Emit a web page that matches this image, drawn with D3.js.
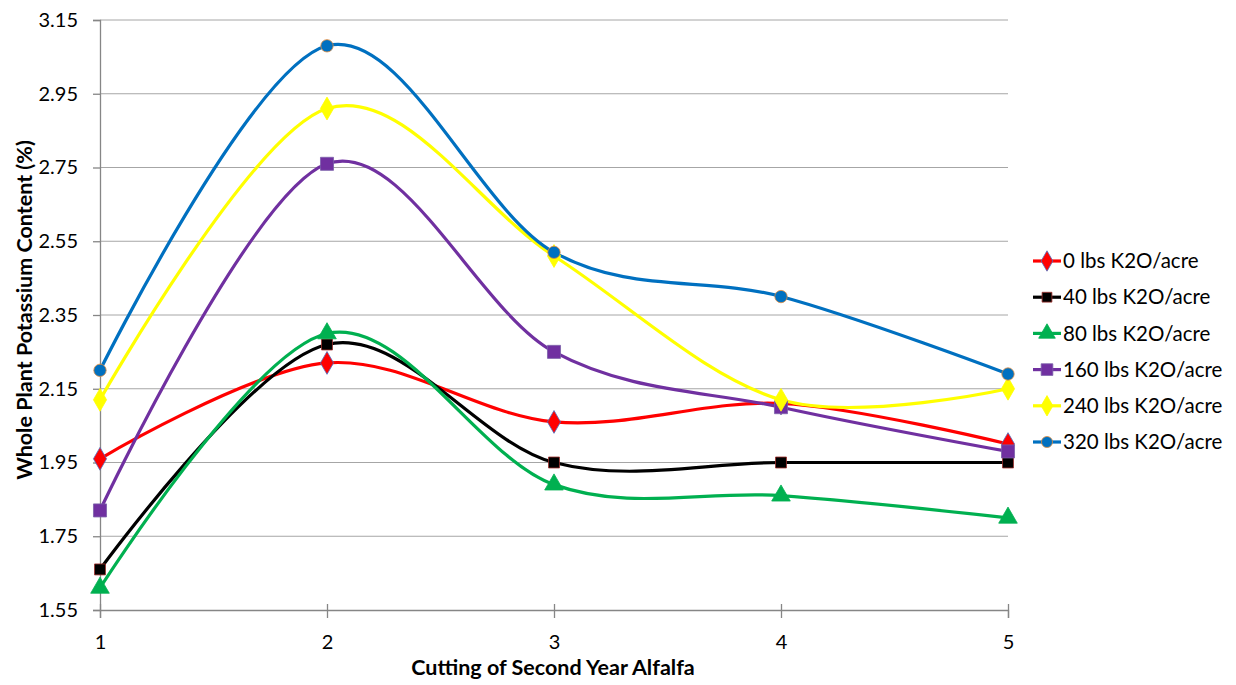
<!DOCTYPE html>
<html>
<head>
<meta charset="utf-8">
<script src="https://cdnjs.cloudflare.com/ajax/libs/d3/7.8.5/d3.min.js"></script>
<style>
  body { margin: 0; background: #fff; }
  text { font-family: Lato, "Open Sans", sans-serif; fill: #000; }
</style>
</head>
<body>
<div id="chart"></div>
<script>

var cuttings = [1, 2, 3, 4, 5];
var yTicks   = [1.55, 1.75, 1.95, 2.15, 2.35, 2.55, 2.75, 2.95, 3.15];

var k0   = [1.96, 2.22, 2.06, 2.11, 2.00];
var k40  = [1.66, 2.27, 1.95, 1.95, 1.95];
var k80  = [1.61, 2.30, 1.89, 1.86, 1.80];
var k160 = [1.82, 2.76, 2.25, 2.10, 1.98];
var k240 = [2.12, 2.91, 2.51, 2.12, 2.15];
var k320 = [2.20, 3.08, 2.52, 2.40, 2.19];

var seriesNames = ["0 lbs K2O/acre", "40 lbs K2O/acre", "80 lbs K2O/acre",
                   "160 lbs K2O/acre", "240 lbs K2O/acre", "320 lbs K2O/acre"];

var series = [
  {name: seriesNames[0], values: k0,   color: "#ff0000", marker: "diamond",  stroke: "#4f6fc0", size: 150},
  {name: seriesNames[1], values: k40,  color: "#000000", marker: "square",   stroke: "#a0302c", size: 120},
  {name: seriesNames[2], values: k80,  color: "#00b050", marker: "triangle", stroke: "#00b050", size: 150},
  {name: seriesNames[3], values: k160, color: "#7030a0", marker: "square",   stroke: "#7a5fa8", size: 170},
  {name: seriesNames[4], values: k240, color: "#ffff00", marker: "diamond",  stroke: "#ffff00", size: 150},
  {name: seriesNames[5], values: k320, color: "#0070c0", marker: "circle",   stroke: "#e08a3c", size: 120}
];

var width = 1236, height = 685;
var margin = {top: 20, right: 228, bottom: 75, left: 100};

var svg = d3.select("#chart").append("svg")
  .attr("width", width)
  .attr("height", height);

var x = d3.scaleLinear()
  .domain([1, 5])
  .range([margin.left, width - margin.right]);

var y = d3.scaleLinear()
  .domain([1.55, 3.15])
  .range([height - margin.bottom, margin.top]);

// gridlines
svg.append("g")
  .attr("class", "grid")
  .selectAll("line")
  .data(yTicks.slice(1))
  .enter()
  .append("line")
  .attr("x1", x(1))
  .attr("x2", x(5))
  .attr("y1", function(d){ return y(d); })
  .attr("y2", function(d){ return y(d); })
  .attr("stroke", "#a6a6a6")
  .attr("stroke-width", 1);

// y axis
var yAxis = svg.append("g")
  .attr("transform", "translate(" + margin.left + ",0)")
  .call(d3.axisLeft(y).tickValues(yTicks).tickFormat(d3.format(".2f")).tickSize(7).tickPadding(15));

// x axis
var xAxis = svg.append("g")
  .attr("transform", "translate(0," + y(1.55) + ")")
  .call(d3.axisBottom(x).tickValues(cuttings).tickFormat(d3.format("d")).tickSize(8).tickPadding(17));

xAxis.selectAll(".tick line").attr("y1", -6);

[yAxis, xAxis].forEach(function(a){
  a.select(".domain").attr("stroke", "#868686").attr("stroke-width", 1.3);
  a.selectAll(".tick line").attr("stroke", "#868686").attr("stroke-width", 1.3);
  a.selectAll("text").style("font-size", "20px").attr("fill", "#000");
});

// axis titles
svg.append("text")
  .attr("transform", "translate(32,310) rotate(-90)")
  .attr("text-anchor", "middle")
  .style("font-size", "21.5px")
  .style("font-weight", "bold")
  .text("Whole Plant Potassium Content (%)");

svg.append("text")
  .attr("x", 553)
  .attr("y", 675)
  .attr("text-anchor", "middle")
  .style("font-size", "21.5px")
  .style("font-weight", "bold")
  .text("Cutting of Second Year Alfalfa");

var symbolType = {
  diamond: d3.symbolDiamond,
  square: d3.symbolSquare,
  triangle: d3.symbolTriangle,
  circle: d3.symbolCircle
};

var line = d3.line()
  .x(function(d, i){ return x(cuttings[i]); })
  .y(function(d){ return y(d); })
  .curve(d3.curveCardinal.tension(0));

var lines = svg.append("g").attr("class", "series");

series.forEach(function(s){
  lines.append("path")
    .attr("d", line(s.values))
    .attr("fill", "none")
    .attr("stroke", s.color)
    .attr("stroke-width", 3.2);
});

series.forEach(function(s){
  lines.append("g")
    .selectAll("path")
    .data(s.values)
    .enter()
    .append("path")
    .attr("transform", function(d, i){ return "translate(" + x(cuttings[i]) + "," + y(d) + ")"; })
    .attr("d", d3.symbol().type(symbolType[s.marker]).size(s.size))
    .attr("fill", s.color)
    .attr("stroke", s.stroke)
    .attr("stroke-width", 0.8);
});

// legend
var legend = svg.append("g")
  .attr("transform", "translate(1033,261)");

var rows = legend.selectAll("g")
  .data(series)
  .enter()
  .append("g")
  .attr("transform", function(d, i){ return "translate(0," + (i * 36.2) + ")"; });

rows.append("line")
  .attr("x1", 0)
  .attr("x2", 28)
  .attr("stroke", function(d){ return d.color; })
  .attr("stroke-width", 3.2);

rows.append("path")
  .attr("transform", "translate(14,0)")
  .attr("d", function(d){ return d3.symbol().type(symbolType[d.marker]).size(d.size * 0.8)(); })
  .attr("fill", function(d){ return d.color; })
  .attr("stroke", function(d){ return d.stroke; })
  .attr("stroke-width", 0.8);

rows.append("text")
  .attr("x", 30)
  .attr("dy", "0.35em")
  .style("font-size", "20.5px")
  .text(function(d){ return d.name; });

</script>
</body>
</html>
